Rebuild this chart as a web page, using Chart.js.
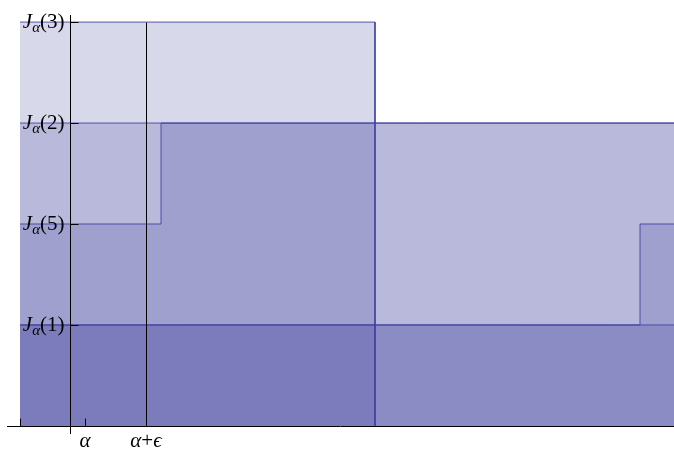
<!DOCTYPE html>
<html>
<head>
<meta charset="utf-8">
<script src="https://cdn.jsdelivr.net/npm/chart.js@4.4.1/dist/chart.umd.min.js"></script>
<style>
	html, body { margin: 0; padding: 0; background: #fff; }
</style>
</head>
<body>
<canvas id="chart" width="674" height="450"></canvas>
<script>
// y levels, bottom to top: J(1) < J(5) < J(2) < J(3)
const levelNames = ['1', '5', '2', '3'];
const levelValues = [1, 2, 3, 4];

// step series (x, y pairs, filled down to the axis)
const s3X = [0, 355, 355];
const s3Y = [4, 4, 0];
const s2X = [0, 654];
const s2Y = [3, 3];
const s5X = [0, 141, 141, 654];
const s5Y = [2, 2, 3, 3];
const s1aX = [0, 654];
const s1aY = [1, 1];
const s1bX = [0, 620, 620, 654];
const s1bY = [1, 1, 2, 2];

// x axis ticks
const xTickValues = [0, 65, 126];
const xTickLabels = ['', 'α', 'α+ϵ'];
const yAxisAt = 50;
const markX = 126; // vertical line at alpha + epsilon

const lineColor = 'rgba(60, 60, 155, 0.85)';
const fillColor = 'rgba(61, 61, 153, 0.2)';

function toPoints(xs, ys) {
	return xs.map((x, i) => ({ x: x, y: ys[i] }));
}

function stepDataset(xs, ys) {
	return {
		data: toPoints(xs, ys),
		borderColor: lineColor,
		backgroundColor: fillColor,
		borderWidth: 1,
		pointRadius: 0,
		tension: 0,
		fill: 'origin'
	};
}

// draw axes, ticks and the math labels
const axesPlugin = {
	id: 'mathAxes',
	afterDatasetsDraw(chart) {
		const ctx = chart.ctx;
		const xs = chart.scales.x;
		const ys = chart.scales.y;
		const area = chart.chartArea;
		const px = v => Math.round(xs.getPixelForValue(v)) + 0.5;
		const py = v => Math.round(ys.getPixelForValue(v)) + 0.5;

		ctx.save();
		ctx.strokeStyle = '#000';
		ctx.lineWidth = 1;

		// x axis
		ctx.beginPath();
		ctx.moveTo(area.left, py(0));
		ctx.lineTo(area.right, py(0));
		// y axis
		ctx.moveTo(px(yAxisAt), area.top);
		ctx.lineTo(px(yAxisAt), area.bottom);
		// alpha + epsilon line
		ctx.moveTo(px(markX), py(4));
		ctx.lineTo(px(markX), py(0));
		// x ticks
		xTickValues.forEach(v => {
			ctx.moveTo(px(v), py(0));
			ctx.lineTo(px(v), py(0) - 8);
		});
		// y ticks
		levelValues.forEach(v => {
			ctx.moveTo(px(yAxisAt), py(v));
			ctx.lineTo(px(yAxisAt) + 8, py(v));
		});
		ctx.stroke();

		ctx.fillStyle = '#000';
		ctx.textBaseline = 'alphabetic';
		const big = '21px "Liberation Serif", "DejaVu Serif", serif';
		const bigIt = 'italic 21px "Liberation Serif", "DejaVu Serif", serif';
		const smallIt = 'italic 15px "Liberation Serif", "DejaVu Serif", serif';

		// y labels: J_alpha(n)
		levelValues.forEach((v, i) => {
			const parts = [
				{ t: 'J', f: bigIt, dy: 0 },
				{ t: 'α', f: smallIt, dy: 4 },
				{ t: '(' + levelNames[i] + ')', f: big, dy: 0 }
			];
			let w = 0;
			parts.forEach(p => { ctx.font = p.f; p.w = ctx.measureText(p.t).width; w += p.w; });
			let x = px(yAxisAt) - 6 - w;
			const base = ys.getPixelForValue(v) + 6;
			parts.forEach(p => {
				ctx.font = p.f;
				ctx.fillText(p.t, x, base + p.dy);
				x += p.w;
			});
		});

		// x labels
		xTickValues.forEach((v, i) => {
			const label = xTickLabels[i];
			if (!label) return;
			const parts = label.split(/(\+)/).filter(s => s).map(s => ({ t: s, f: s === '+' ? big : bigIt }));
			let w = 0;
			parts.forEach(p => { ctx.font = p.f; p.w = ctx.measureText(p.t).width; w += p.w; });
			let x = xs.getPixelForValue(v) - w / 2;
			const base = ys.getPixelForValue(0) + 21;
			parts.forEach(p => {
				ctx.font = p.f;
				ctx.fillText(p.t, x, base);
				x += p.w;
			});
		});
		ctx.restore();
	}
};

new Chart(document.getElementById('chart').getContext('2d'), {
	type: 'line',
	data: {
		datasets: [
			stepDataset(s3X, s3Y),
			stepDataset(s2X, s2Y),
			stepDataset(s5X, s5Y),
			stepDataset(s1aX, s1aY),
			stepDataset(s1bX, s1bY)
		]
	},
	options: {
		responsive: false,
		animation: false,
		devicePixelRatio: 1,
		layout: { padding: { left: 7, right: 0, top: 15, bottom: 16 } },
		scales: {
			x: { type: 'linear', min: -13, max: 654, display: false },
			y: { type: 'linear', min: -0.08, max: 4.07, display: false }
		},
		plugins: {
			legend: { display: false },
			tooltip: { enabled: false },
			filler: { drawTime: 'beforeDatasetsDraw' }
		}
	},
	plugins: [axesPlugin]
});
</script>
</body>
</html>
